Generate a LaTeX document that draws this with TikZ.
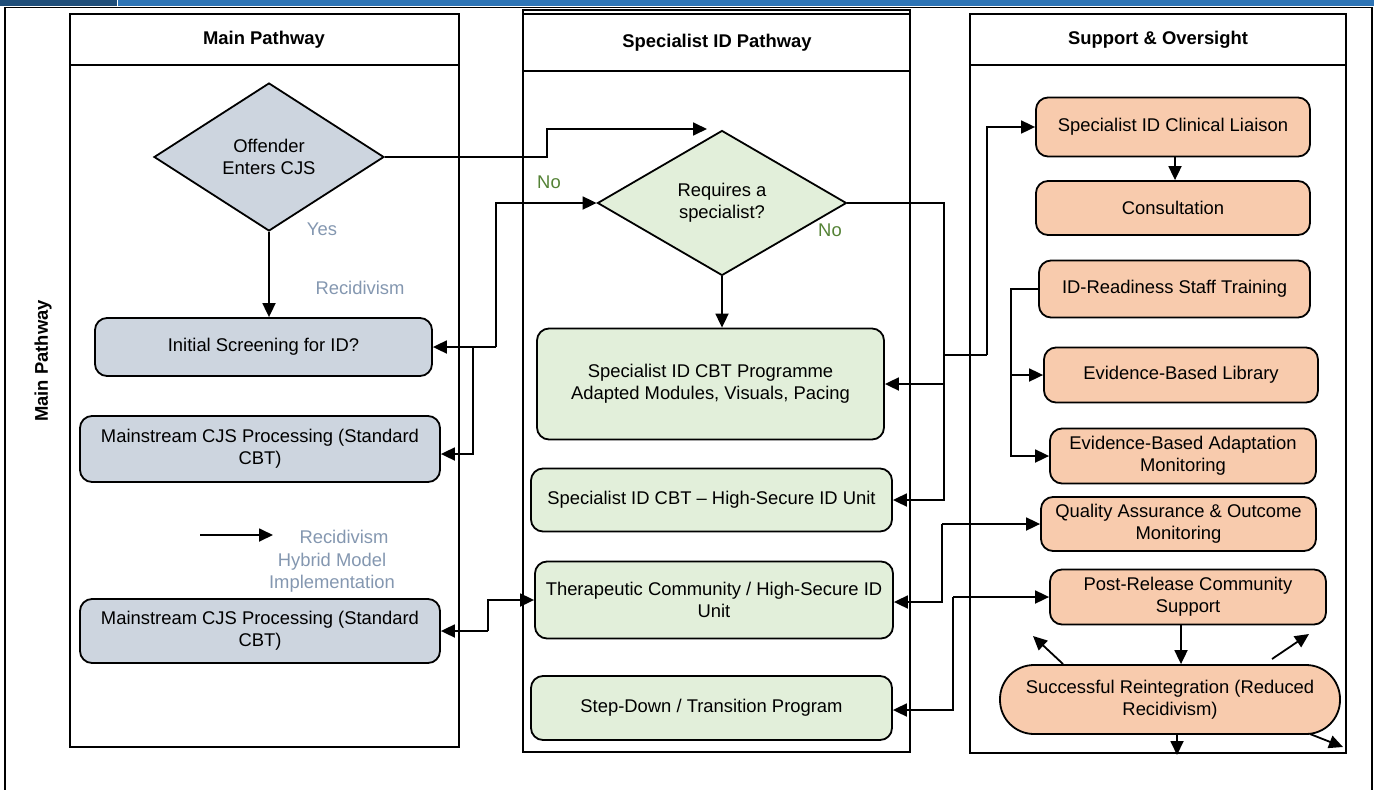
\documentclass[tikz,border=0pt]{standalone}
\usepackage{fontspec}
\setmainfont{Liberation Sans}
\usetikzlibrary{arrows.meta,shapes.geometric,calc}
\definecolor{bardark}{HTML}{1F4E79}
\definecolor{barlight}{HTML}{2E75B6}
\definecolor{greyblue}{HTML}{CDD5DF}
\definecolor{lgreen}{HTML}{E2EFDA}
\definecolor{salmon}{HTML}{F8CBAD}
\definecolor{lblblue}{HTML}{8497B0}
\definecolor{lblgreen}{HTML}{548235}
\begin{document}
\begin{tikzpicture}[x=1pt,y=-1pt,
  font=\fontsize{18.4}{22}\selectfont,
  lw/.style={line width=1.8pt},
  pbox/.style={draw, line width=1.8pt, rounded corners=12pt, align=center, inner sep=2pt},
  mainbox/.style={pbox, fill=greyblue},
  specbox/.style={pbox, fill=lgreen},
  supbox/.style={pbox, fill=salmon},
  decis/.style={draw, line width=1.8pt, shape=diamond, align=center, inner sep=0pt},
  arr/.style={line width=1.8pt, -{Triangle[length=14pt,width=13pt]}},
  hdr/.style={font=\fontsize{18.4}{22}\selectfont\bfseries},
  bluelbl/.style={text=lblblue, align=center},
  greenlbl/.style={text=lblgreen},
]
\useasboundingbox (0,0) rectangle (1374,790);
% top bar and frame
\fill[bardark] (0,0) rectangle (117,6);
\fill[barlight] (118,0) rectangle (1374,6);
\draw[lw] (5,791) -- (5,7.5) -- (1372,7.5) -- (1372,791);
% lanes
\draw[lw] (70,14) rectangle (459,747);
\draw[lw] (70,65) -- (459,65);
\draw[line width=1.2pt, black!60] (523,10) -- (910,10);
\draw[lw] (523,10) rectangle (910,752);
\draw[lw] (523,14) rectangle (910,71);
\draw[lw] (970,14) rectangle (1346,753);
\draw[lw] (970,65) -- (1346,65);
\node[hdr] (h1) at (264,40) {Main Pathway};
\node[hdr] (h2) at (717,43) {Specialist ID Pathway};
\node[hdr] (h3) at (1158,40) {Support \& Oversight};
\node[hdr, rotate=90] (side) at (43,361) {Main Pathway};
% lane 1
\node[decis, fill=greyblue, minimum width=230pt, minimum height=148pt] (off) at (269,157) {Offender\\Enters CJS};
\node[mainbox, minimum width=337pt, minimum height=58pt] (screen) at (263.5,347) {Initial Screening for ID?};
\node[mainbox, minimum width=360pt, minimum height=66pt] (main1) at (260,449) {Mainstream CJS Processing (Standard\\CBT)};
\node[mainbox, minimum width=360pt, minimum height=64pt] (main2) at (260,631) {Mainstream CJS Processing (Standard\\CBT)};
\node[bluelbl] (yes) at (322,229) {Yes};
\node[bluelbl] (rec1) at (360,288) {Recidivism};
\node[bluelbl] (rec2) at (344,537) {Recidivism};
\node[bluelbl] (hyb) at (332,573) {Hybrid Model\\Implementation};
\coordinate (la) at (200,535);
\coordinate (lb) at (273,535);
\draw[arr] (la) -- (lb);
% lane 2
\node[decis, fill=lgreen, minimum width=249pt, minimum height=145pt] (req) at (722,203) {Requires a\\specialist?};
\node[greenlbl] (no1) at (549,182) {No};
\node[greenlbl] (no2) at (830,230) {No};
\node[specbox, minimum width=347pt, minimum height=111pt] (cbt) at (710.5,384) {Specialist ID CBT Programme\\Adapted Modules, Visuals, Pacing};
\node[specbox, minimum width=361pt, minimum height=63pt] (hs) at (711.5,500) {Specialist ID CBT -- High-Secure ID Unit};
\node[specbox, minimum width=358pt, minimum height=77pt] (therap) at (714,600) {Therapeutic Community / High-Secure ID\\Unit};
\node[specbox, minimum width=361pt, minimum height=64pt] (step) at (711.5,708) {Step-Down / Transition Program};
% lane 3
\node[supbox, minimum width=274pt, minimum height=59pt] (liaison) at (1173,127) {Specialist ID Clinical Liaison};
\node[supbox, minimum width=274pt, minimum height=54pt] (consult) at (1173,208) {Consultation};
\node[supbox, minimum width=271pt, minimum height=57pt] (training) at (1174.5,289) {ID-Readiness Staff Training};
\node[supbox, minimum width=274pt, minimum height=55pt] (library) at (1181,375) {Evidence-Based Library};
\node[supbox, minimum width=266pt, minimum height=55pt] (adapt) at (1183,456) {Evidence-Based Adaptation\\Monitoring};
\node[supbox, minimum width=275pt, minimum height=54pt] (qa) at (1178.5,524) {Quality Assurance \& Outcome\\Monitoring};
\node[supbox, minimum width=276pt, minimum height=55pt] (post) at (1188,597) {Post-Release Community\\Support};
\node[supbox, rounded corners=34pt, minimum width=340pt, minimum height=69pt] (reint) at (1170,699.5) {Successful Reintegration (Reduced\\Recidivism)};
% connectors
\coordinate (c1) at (707,129);
\draw[arr] (off.east) -- (547,157) -- (547,129) -- (c1);
\draw[arr] (off.south) -- (screen.north -| off.south);
\coordinate (j2) at (496,347);
\draw[arr] (j2) |- (req.west);
\draw[arr] (j2) -- (screen.east);
\coordinate (j3) at (473,347);
\draw[arr] (j3) |- ($(main1.east)+(0,5)$);
\draw[arr] (req.south) -- (req.south |- cbt.north);
\draw[arr] (req.east) -- (944,203) |- (hs.east);
\coordinate (j5) at (944,384);
\draw[arr] (j5) -- (cbt.east);
\coordinate (j6) at (944,355);
\draw[lw] (j6) -- (987,355);
\draw[arr] (987,355) |- (liaison.west);
\draw[arr] (1175,156) -- (consult.north -| 1175,0);
\draw[arr] (training.west) -- (1011,289) |- (adapt.west);
\coordinate (j7) at (1011,375);
\draw[arr] (j7) -- (library.west);
\coordinate (j8) at (942,524);
\draw[arr] (j8) -- (qa.west);
\draw[arr] (j8) |- ($(therap.east)+(0,2)$);
\coordinate (j9) at (953,597);
\draw[arr] (j9) -- (post.west);
\draw[arr] (j9) |- ($(step.east)+(0,2)$);
\coordinate (j10) at (488,631);
\draw[arr] (j10) -- (main2.east);
\draw[arr] (j10) |- (therap.west);
\draw[arr] (post.south -| 1181,0) -- (reint.north -| 1181,0);
% free arrows around the reintegration node
\coordinate (e1s) at (1063,664);
\coordinate (e1t) at (1033,636);
\coordinate (e2s) at (1272,659);
\coordinate (e2t) at (1309,634);
\coordinate (e3t) at (1177,755);
\coordinate (e4s) at (1310,734);
\coordinate (e4t) at (1343,747);
\draw[arr] (e1s) -- (e1t);
\draw[arr] (e2s) -- (e2t);
\draw[arr] (reint.south -| e3t) -- (e3t);
\draw[arr] (e4s) -- (e4t);
\end{tikzpicture}
\end{document}
